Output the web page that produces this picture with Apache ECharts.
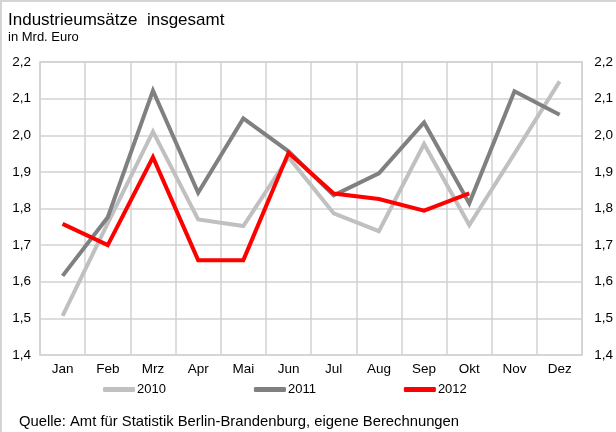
<!DOCTYPE html>
<html>
<head>
<meta charset="utf-8">
<script src="https://cdn.jsdelivr.net/npm/echarts@6/dist/echarts.min.js"></script>
<style>
  html, body { margin: 0; padding: 0; background: #fff; }
  #chart { width: 616px; height: 432px; box-sizing: border-box; border-top: 2px solid #d4d4d4; border-left: 2px solid #d4d4d4; }
</style>
</head>
<body>
<div id="chart"></div>
<script>
// Monate
const months = ['Jan', 'Feb', 'Mrz', 'Apr', 'Mai', 'Jun', 'Jul', 'Aug', 'Sep', 'Okt', 'Nov', 'Dez'];
// Umsätze in Mrd. Euro
const values2010 = [1.507, 1.76, 2.01, 1.77, 1.752, 1.94, 1.787, 1.738, 1.976, 1.755, 1.95, 2.147];
const values2011 = [1.616, 1.776, 2.122, 1.843, 2.046, 1.956, 1.836, 1.896, 2.035, 1.814, 2.12, 2.056];
const values2012 = [1.758, 1.70, 1.94, 1.659, 1.659, 1.952, 1.841, 1.826, 1.794, 1.841];
// y-Achse
const yMin = 1.4, yMax = 2.2, yStep = 0.1;

const fmt = v => v.toFixed(1).replace('.', ',');
const font = 'Liberation Sans';

const chart = echarts.init(document.getElementById('chart'));
chart.setOption({
  animation: false,
  textStyle: { fontFamily: font },
  title: [
    { text: 'Industrieumsätze  insgesamt', left: 6, top: 10, padding: 0,
      textStyle: { fontFamily: font, fontSize: 17, fontWeight: 'normal', color: '#000' } },
    { text: 'in Mrd. Euro', left: 6, top: 29, padding: 0,
      textStyle: { fontFamily: font, fontSize: 13, fontWeight: 'normal', color: '#000' } },
    { text: 'Quelle: Amt für Statistik Berlin-Brandenburg, eigene Berechnungen', left: 17, top: 412, padding: 0,
      textStyle: { fontFamily: font, fontSize: 14.8, fontWeight: 'normal', color: '#000' } }
  ],
  legend: {
    top: 376, left: 96,
    icon: 'roundRect', itemWidth: 32, itemHeight: 5, itemGap: 88,
    textStyle: { fontFamily: font, fontSize: 13, color: '#000', padding: [0, 0, 0, -3] },
    data: ['2010', '2011', '2012']
  },
  grid: { left: 38, right: 33, top: 60, bottom: 77, show: true, borderColor: '#d2d2d2', borderWidth: 1.5 },
  xAxis: {
    type: 'category',
    data: months,
    axisLine: { show: false },
    axisTick: { show: false },
    axisLabel: { color: '#000', fontSize: 13.5, margin: 7 },
    splitLine: { show: true, lineStyle: { color: '#d2d2d2', width: 1.5 } }
  },
  yAxis: [
    {
      type: 'value', min: yMin, max: yMax, interval: yStep,
      axisLine: { show: false }, axisTick: { show: false },
      axisLabel: { color: '#000', fontSize: 13.5, margin: 9, formatter: fmt },
      splitLine: { lineStyle: { color: '#d2d2d2', width: 1.5 } }
    },
    {
      type: 'value', min: yMin, max: yMax, interval: yStep, position: 'right',
      axisLine: { show: false }, axisTick: { show: false },
      axisLabel: { color: '#000', fontSize: 13.5, margin: 12, formatter: fmt },
      splitLine: { show: false }
    }
  ],
  series: [
    { name: '2010', type: 'line', data: values2010, symbol: 'none', color: '#c0c0c0',
      lineStyle: { width: 4, color: '#c0c0c0', join: 'miter' } },
    { name: '2011', type: 'line', data: values2011, symbol: 'none', color: '#808080',
      lineStyle: { width: 4, color: '#808080', join: 'miter' } },
    { name: '2012', type: 'line', data: values2012, symbol: 'none', color: '#ff0000',
      lineStyle: { width: 4, color: '#ff0000', join: 'miter' } }
  ]
});
</script>
</body>
</html>
